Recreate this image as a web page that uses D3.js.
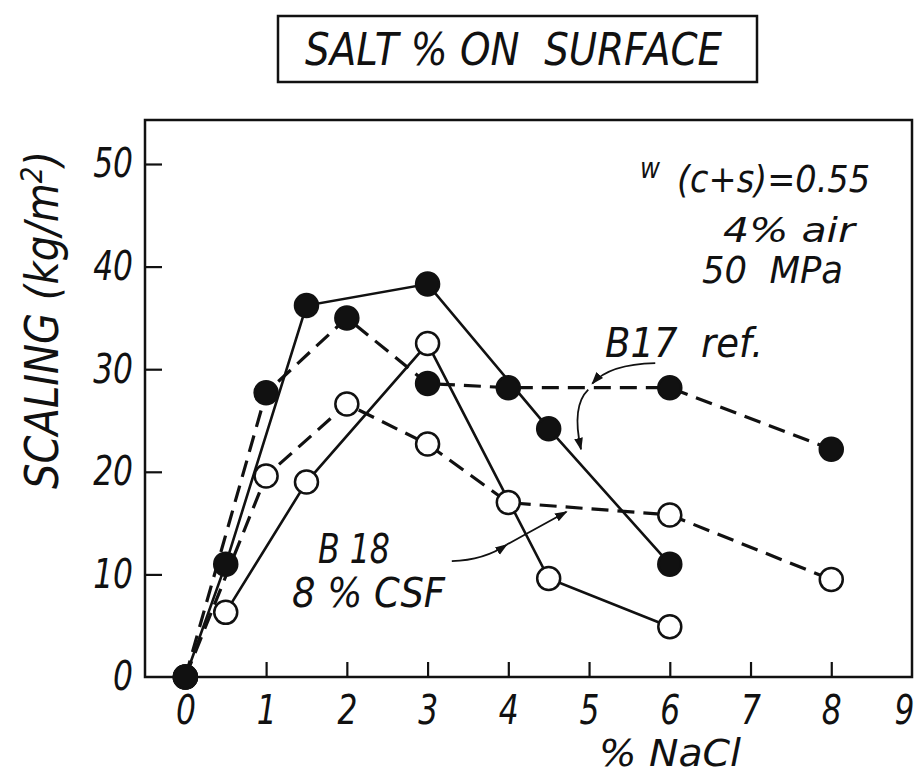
<!DOCTYPE html>
<html>
<head>
<meta charset="utf-8">
<script src="https://cdn.jsdelivr.net/npm/d3@7"></script>
<style>
  body { margin: 0; background: #fff; }
  svg text { font-family: "DejaVu Sans Condensed", "DejaVu Sans", sans-serif; font-style: italic; font-stretch: condensed; fill: #111; white-space: pre; }
</style>
</head>
<body>
<div id="chart"></div>
<script>
// values (x = % NaCl, y = scaling kg/m2)
const xTicks = [0, 1, 2, 3, 4, 5, 6, 7, 8, 9];
const yTicks = [0, 10, 20, 30, 40, 50];

const b17Solid = [[0, 0], [0.5, 11], [1.5, 36.2], [3, 38.3], [4.5, 24.2], [6, 11]];
const b17Dashed = [[0, 0], [1, 27.7], [2, 35], [3, 28.6], [4, 28.2], [6, 28.2], [8, 22.2]];
const b18Solid = [[0.5, 6.3], [1.5, 19], [3, 32.5], [4.5, 9.6], [6, 4.9]];
const b18Dashed = [[0, 0], [1, 19.6], [2, 26.6], [3, 22.7], [4, 17], [6, 15.8], [8, 9.5]];

const width = 919, height = 777;
const margin = { left: 145, right: 7, top: 120, bottom: 100 };

const svg = d3.select("#chart").append("svg").attr("width", width).attr("height", height);

const x = d3.scaleLinear().domain([-0.5, 9]).range([margin.left, width - margin.right]);
const y = d3.scaleLinear().domain([0, 50]).range([height - margin.bottom, 164]);

// the lettering of the original is narrower than DejaVu, so squeeze texts a bit
const squish = (sel, f) => sel.each(function () {
  const len = this.getComputedTextLength();
  d3.select(this).attr("textLength", len * f).attr("lengthAdjust", "spacingAndGlyphs");
});
const fit = (sel, w) => sel.attr("textLength", w).attr("lengthAdjust", "spacingAndGlyphs");

// frame
svg.append("rect")
  .attr("x", margin.left).attr("y", margin.top)
  .attr("width", width - margin.right - margin.left)
  .attr("height", height - margin.bottom - margin.top)
  .attr("fill", "none").attr("stroke", "#111").attr("stroke-width", 2.5);

// axes with inward ticks
const xAxis = svg.append("g")
  .attr("transform", `translate(0,${height - margin.bottom})`)
  .call(d3.axisBottom(x).tickValues(xTicks).tickSizeInner(-15).tickSizeOuter(0).tickPadding(19).tickFormat(d3.format("d")));
const yAxis = svg.append("g")
  .attr("transform", `translate(${margin.left},0)`)
  .call(d3.axisLeft(y).tickValues(yTicks).tickSizeInner(-17).tickSizeOuter(0).tickPadding(12).tickFormat(d3.format("d")));

[xAxis, yAxis].forEach(g => {
  g.select(".domain").remove();
  g.selectAll(".tick line").attr("stroke", "#111").attr("stroke-width", 2.2);
  g.selectAll(".tick text").attr("font-size", 40).attr("fill", "#111")
    .style("font-family", '"DejaVu Sans Condensed", "DejaVu Sans", sans-serif').style("font-style", "italic")
    .call(squish, 0.87);
});
xAxis.selectAll(".tick").filter(d => d === 0 || d === 9).select("line").remove();
xAxis.selectAll(".tick").filter(d => d === 9).select("text").attr("dx", -8);
yAxis.selectAll(".tick").filter(d => d === 0).select("line").remove();

// axis titles
svg.append("text").attr("x", 599).attr("y", 766).attr("font-size", 37).text("% NaCl").call(fit, 142);
svg.append("text")
  .attr("transform", `translate(58,${y(34.8)}) rotate(-90)`)
  .attr("text-anchor", "middle").attr("font-size", 46)
  .html('SCALING (kg/m<tspan dy="-16" font-size="30">2</tspan><tspan dy="16">)</tspan>')
  .call(fit, 338);

// title box
svg.append("rect").attr("x", 278).attr("y", 16).attr("width", 479).attr("height", 66)
  .attr("fill", "none").attr("stroke", "#111").attr("stroke-width", 2.5);
svg.append("text").attr("x", 305).attr("y", 65).attr("font-size", 44)
  .text("SALT % ON  SURFACE").call(fit, 417);

// series
const line = d3.line().x(d => x(d[0])).y(d => y(d[1]));
const series = [
  { data: b17Dashed, dash: "17,9", fill: "#111" },
  { data: b18Dashed, dash: "17,9", fill: "#fff" },
  { data: b17Solid, dash: null, fill: "#111" },
  { data: b18Solid, dash: null, fill: "#fff" }
];
series.forEach(s => {
  svg.append("path").datum(s.data).attr("d", line)
    .attr("fill", "none").attr("stroke", "#111").attr("stroke-width", s.dash ? 3.2 : 2.6)
    .attr("stroke-dasharray", s.dash);
});
series.forEach(s => {
  svg.append("g").selectAll("circle").data(s.data).join("circle")
    .attr("cx", d => x(d[0])).attr("cy", d => y(d[1])).attr("r", 11.5)
    .attr("fill", s.fill).attr("stroke", "#111").attr("stroke-width", 2.5);
});

// arrowheads
svg.append("defs").append("marker")
  .attr("id", "arrow").attr("viewBox", "0 0 10 10").attr("refX", 9).attr("refY", 5)
  .attr("markerWidth", 7).attr("markerHeight", 7).attr("markerUnits", "strokeWidth")
  .attr("orient", "auto")
  .append("path").attr("d", "M0,1.5 L10,5 L0,8.5 Z").attr("fill", "#111");

const curve = (p0, c, p1) => `M${x(p0[0])},${y(p0[1])} Q${x(c[0])},${y(c[1])} ${x(p1[0])},${y(p1[1])}`;
const arrows = [
  curve([5.82, 30.6], [5.25, 30.5], [5.04, 28.6]),
  curve([4.99, 28.0], [4.78, 26.4], [4.9, 22.2]),
  curve([3.3, 11.3], [3.7, 11.4], [3.98, 12.9]),
  curve([3.98, 12.9], [4.4, 14.7], [4.72, 16.1])
];
arrows.forEach(d => {
  svg.append("path").attr("d", d).attr("fill", "none").attr("stroke", "#111")
    .attr("stroke-width", 1.8).attr("marker-end", "url(#arrow)");
});

// annotations
svg.append("text").attr("x", 605).attr("y", 357).attr("font-size", 40).text("B17  ref.").call(fit, 158);
svg.append("text").attr("x", 318).attr("y", 563).attr("font-size", 40).text("B 18").call(fit, 72);
svg.append("text").attr("x", 292).attr("y", 607).attr("font-size", 40).text("8 % CSF").call(fit, 153);

svg.append("text").attr("x", 640).attr("y", 178).attr("font-size", 28).text("w").call(fit, 20);
svg.append("text").attr("x", 677).attr("y", 192).attr("font-size", 38).text("(c+s)=0.55").call(fit, 193);
svg.append("text").attr("x", 723).attr("y", 242).attr("font-size", 34).text("4% air").call(fit, 132);
svg.append("text").attr("x", 702).attr("y", 283).attr("font-size", 38).text("50  MPa").call(fit, 141);
</script>
</body>
</html>
